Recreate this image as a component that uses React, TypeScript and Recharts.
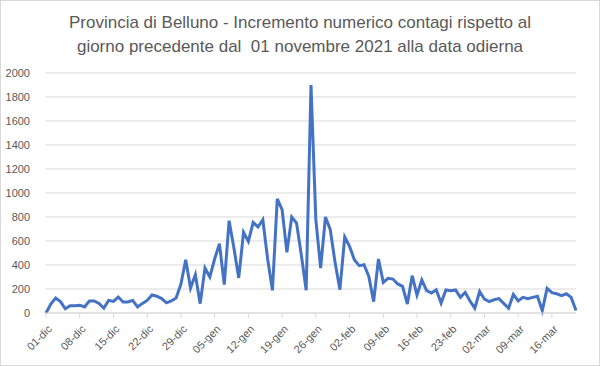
import { LineChart, Line, XAxis, YAxis, CartesianGrid } from 'recharts';

// daily categories, 01-dic to 21-mar
const monthNames = ['dic', 'gen', 'feb', 'mar'];
const monthDays = [31, 31, 28, 21];

const dateLabels: string[] = [];
monthNames.forEach((m, i) => {
  for (let d = 1; d <= monthDays[i]; d++) {
    dateLabels.push(`${d < 10 ? '0' + d : d}-${m}`);
  }
});

// daily increase in cases
const increments = [
  0, 75, 125, 95, 35, 60, 60, 65, 50, 100,
  100, 80, 40, 105, 97, 133, 92, 92, 105, 50,
  80, 105, 150, 140, 120, 85, 100, 125, 240, 444,
  208, 319, 78, 375, 300, 450, 577, 236, 769, 542,
  292, 672, 597, 755, 717, 777, 450, 189, 952, 861,
  505, 800, 750, 480, 189, 1900, 780, 375, 800, 694,
  420, 194, 633, 555, 444, 394, 402, 305, 95, 450,
  255, 289, 283, 242, 222, 75, 311, 150, 275, 186,
  167, 194, 83, 192, 186, 192, 131, 172, 100, 40,
  180, 115, 95, 110, 120, 80, 40, 155, 100, 130,
  120, 130, 140, 20, 205, 170, 160, 145, 160, 130, 20,
];

const yTicks = [0, 200, 400, 600, 800, 1000, 1200, 1400, 1600, 1800, 2000];

const data = dateLabels.map((date, i) => ({ date, value: increments[i] }));

const FONT = '"Liberation Sans", Arial, sans-serif';
const TEXT = '#595959';

const DateTick = (props: any) => {
  const { x, y, payload } = props;
  const ax = x + 4;
  const ay = y + 7;
  return (
    <text
      x={ax}
      y={ay}
      dy="0.35em"
      textAnchor="end"
      transform={`rotate(-45, ${ax}, ${ay})`}
      fontSize={11}
      fontFamily={FONT}
      fill={TEXT}
    >
      {payload.value}
    </text>
  );
};

export default function App() {
  return (
    <div
      style={{
        position: 'absolute',
        left: 0,
        top: 0,
        width: 600,
        height: 366,
        background: '#fff',
        border: '1px solid #d9d9d9',
        boxSizing: 'border-box',
        fontFamily: FONT,
      }}
    >
      <div
        style={{
          position: 'absolute',
          top: 10,
          left: -1,
          width: 600,
          textAlign: 'center',
          fontSize: 17,
          lineHeight: '24px',
          color: TEXT,
        }}
      >
        Provincia di Belluno - Incremento numerico contagi rispetto al
        <br />
        giorno precedente dal&nbsp; 01 novembre 2021 alla data odierna
      </div>
      <div style={{ position: 'absolute', left: -1, top: -1 }}>
        <LineChart
          width={600}
          height={366}
          data={data}
          margin={{ top: 73, right: 24, bottom: 0, left: 0 }}
        >
          <CartesianGrid vertical={false} stroke="#d9d9d9" />
          <XAxis
            dataKey="date"
            interval={6}
            height={53}
            tickSize={5}
            tick={<DateTick />}
            axisLine={{ stroke: '#d9d9d9' }}
            tickLine={{ stroke: '#d9d9d9' }}
          />
          <YAxis
            width={46}
            domain={[0, 2000]}
            ticks={yTicks}
            axisLine={false}
            tickLine={false}
            tickMargin={10}
            tick={{ fontSize: 11, fill: TEXT, fontFamily: FONT }}
          />
          <Line
            type="linear"
            dataKey="value"
            stroke="#4472C4"
            strokeWidth={3}
            dot={false}
            isAnimationActive={false}
          />
        </LineChart>
      </div>
    </div>
  );
}
